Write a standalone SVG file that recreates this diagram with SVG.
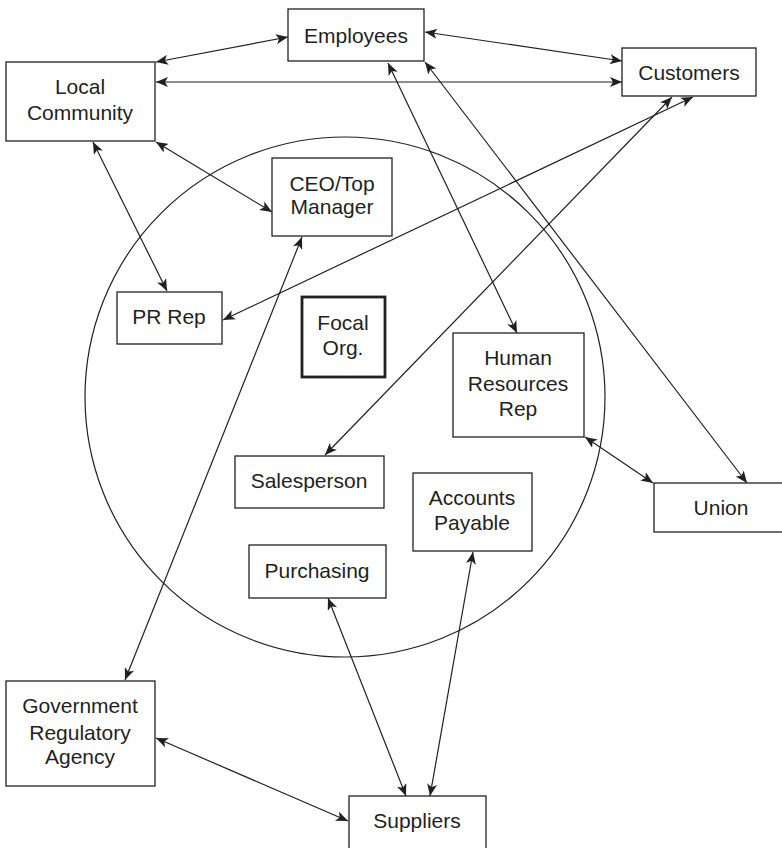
<svg xmlns="http://www.w3.org/2000/svg" width="782" height="848" viewBox="0 0 782 848">
<style>
.box{fill:#fff;stroke:#231f20;stroke-width:1.3}
.focal{fill:#fff;stroke:#231f20;stroke-width:2.8}
text{font-family:"Liberation Sans",Arial,sans-serif;font-size:21px;fill:#231f20;text-anchor:middle}
.c line{stroke:#231f20;stroke-width:1.2;fill:none;marker-start:url(#ah);marker-end:url(#ah)}
</style>
<defs>
<marker id="ah" viewBox="0 0 12 10" refX="12" refY="5" markerWidth="12" markerHeight="10" markerUnits="userSpaceOnUse" orient="auto-start-reverse">
<path d="M0,0 L12,5 L0,10 L3,5 z" fill="#231f20"/>
</marker>
</defs>
<rect width="782" height="848" fill="#fff"/>
<ellipse cx="345" cy="397" rx="260" ry="260" fill="none" stroke="#231f20" stroke-width="1.2"/>
<g class="c" id="connectors">
<line x1="156" y1="62" x2="288" y2="37"/>
<line x1="156" y1="82" x2="622" y2="82"/>
<line x1="425" y1="32" x2="622" y2="61"/>
<line x1="156" y1="142" x2="272" y2="212"/>
<line x1="93" y1="142" x2="167" y2="291"/>
<line x1="388" y1="63" x2="517" y2="333"/>
<line x1="425" y1="62" x2="747" y2="483"/>
<line x1="693" y1="97" x2="223" y2="320"/>
<line x1="672" y1="97" x2="325" y2="455"/>
<line x1="302" y1="237" x2="125" y2="680"/>
<line x1="585" y1="437" x2="653" y2="483"/>
<line x1="328" y1="598" x2="406" y2="796"/>
<line x1="473" y1="552" x2="430" y2="796"/>
<line x1="156" y1="738" x2="348" y2="821"/>
</g>
<g id="employees"><rect class="box" x="288" y="9" width="136" height="52"/><text x="356" y="43">Employees</text></g>
<g id="local-community"><rect class="box" x="6" y="62" width="149" height="79"/><text x="80" y="94">Local</text><text x="80" y="120">Community</text></g>
<g id="customers"><rect class="box" x="622" y="48" width="134" height="48"/><text x="689" y="80">Customers</text></g>
<g id="ceo"><rect class="box" x="272" y="158" width="120" height="78"/><text x="332" y="191">CEO/Top</text><text x="332" y="214">Manager</text></g>
<g id="pr-rep"><rect class="box" x="117" y="292" width="105" height="52"/><text x="169" y="324">PR Rep</text></g>
<g id="focal-org"><rect class="focal" x="302" y="297" width="83" height="80"/><text x="343" y="330">Focal</text><text x="343" y="355">Org.</text></g>
<g id="hr-rep"><rect class="box" x="453" y="333" width="131" height="104"/><text x="518" y="365">Human</text><text x="518" y="391">Resources</text><text x="518" y="416">Rep</text></g>
<g id="salesperson"><rect class="box" x="235" y="456" width="149" height="52"/><text x="309" y="488">Salesperson</text></g>
<g id="union"><rect class="box" x="654" y="483" width="136" height="49"/><text x="721" y="515">Union</text></g>
<g id="accounts-payable"><rect class="box" x="413" y="473" width="119" height="78"/><text x="472" y="505">Accounts</text><text x="472" y="530">Payable</text></g>
<g id="purchasing"><rect class="box" x="249" y="545" width="137" height="53"/><text x="317" y="578">Purchasing</text></g>
<g id="government"><rect class="box" x="6" y="681" width="149" height="105"/><text x="80" y="713">Government</text><text x="80" y="740">Regulatory</text><text x="80" y="764">Agency</text></g>
<g id="suppliers"><rect class="box" x="349" y="796" width="137" height="60"/><text x="417" y="828">Suppliers</text></g>
</svg>
